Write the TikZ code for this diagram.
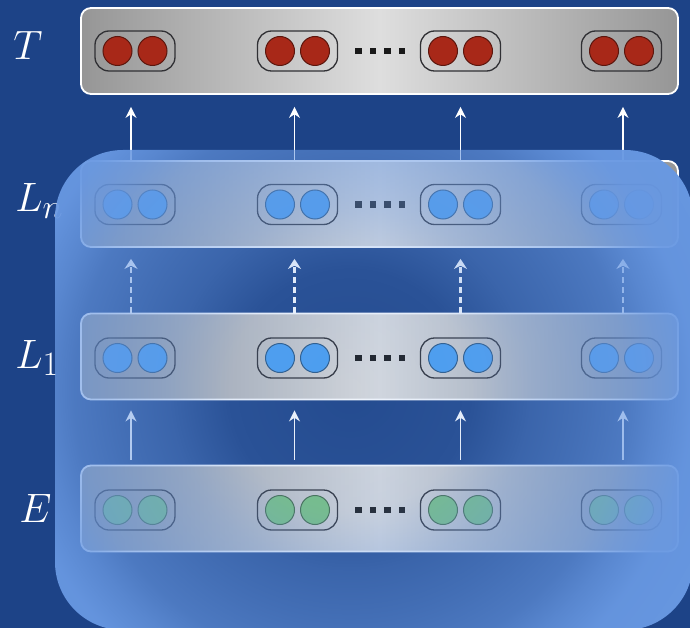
\documentclass[tikz,border=0pt]{standalone}
\usepackage{xcolor}
\usepackage{tikz}
\usetikzlibrary{arrows.meta, fadings}
\definecolor{slidebg}{RGB}{29,67,135}
\definecolor{overlayblue}{RGB}{104,152,226}
\definecolor{boxlight}{RGB}{222,222,222}
\definecolor{boxdark}{RGB}{150,150,150}
\definecolor{cellred}{RGB}{168,40,24}
\definecolor{cellblue}{RGB}{74,160,242}
\definecolor{cellgreen}{RGB}{122,196,126}
\definecolor{pillline}{RGB}{48,48,52}

% fading for the big translucent panel (clear in the middle, solid at the rim)
\pgfdeclareradialshading{overlayshade}{\pgfpointorigin}{color(0bp)=(black!90); color(120bp)=(black!82); color(180bp)=(black!60); color(230bp)=(black!48); color(275bp)=(black!36); color(305bp)=(black!20); color(340bp)=(black!5); color(420bp)=(black!0)}
\pgfdeclarefading{overlayfade}{\pgfuseshading{overlayshade}}

\tikzset{
  layerbox/.style={draw=white, line width=1.8pt, rounded corners=10pt, left color=boxdark, right color=boxdark, middle color=boxlight, minimum width=597pt, minimum height=86pt},
  pairpill/.style={draw=pillline, line width=1.3pt, rounded corners=14pt, minimum width=80pt, minimum height=40pt},
  cell/.style={circle, draw=#1!55!black, fill=#1, line width=1pt, minimum size=29pt, inner sep=0pt},
  dotsq/.style={fill=black!90, minimum size=6.5pt, inner sep=0pt},
  layerlabel/.style={anchor=base west, inner sep=0pt, text=white, font=\Huge, scale=1.65, transform shape},
  uparrow/.style={draw=white, line width=1.8pt, -{Stealth[length=11pt, width=11pt]}}
}

\begin{document}
\begin{tikzpicture}[x=1pt, y=-1pt]
    \fill[slidebg] (0,0) rectangle (690,628);
    \useasboundingbox (0,0) rectangle (690,628);

    \node[layerlabel] (lab-T) at (13,60) {$T$};
    \node[layerlabel] (lab-Ln) at (15,212) {$L_n$};
    \node[layerlabel] (lab-L1) at (15,368) {$L_1$};
    \node[layerlabel] (lab-E) at (19,522) {$E$};

    \node[layerbox] (T) at (379.5,51) {};
    \node[layerbox] (Ln) at (379.5,204) {};
    \node[layerbox] (L1) at (379.5,356.5) {};
    \node[layerbox] (E) at (379.5,508.5) {};

    \foreach \row/\y/\col in {T/51/cellred, Ln/204.5/cellblue, L1/358/cellblue, E/510/cellgreen} {
        \foreach \i/\px in {1/135, 2/297.5, 3/460.5, 4/621.5} {
            \node[pairpill] (\row-\i) at (\px,\y) {};
            \node[cell=\col] at ([xshift=-17.5pt]\row-\i.center) {};
            \node[cell=\col] at ([xshift=17.5pt]\row-\i.center) {};
        }
        \foreach \k in {0,...,3}
            \node[dotsq] at ({358.5+14.5*\k},\y) {};
    }

    \foreach \i/\dx in {1/-4, 2/-3, 3/0, 4/1.5} {
        \draw[uparrow, shorten >=12pt] ([xshift=\dx pt]Ln-\i |- Ln.north) -- ([xshift=\dx pt]T-\i |- T.south);
        \draw[uparrow, line width=2.6pt, dash pattern=on 6pt off 4pt, shorten >=11pt, -{Stealth[length=10pt, width=13pt]}] ([xshift=\dx pt]L1-\i |- L1.north) -- ([xshift=\dx pt]Ln-\i |- Ln.south);
        \draw[uparrow, shorten <=5pt, shorten >=10pt] ([xshift=\dx pt]E-\i |- E.north) -- ([xshift=\dx pt]L1-\i |- L1.south);
    }

    % translucent panel over the lower layers
    \fill[overlayblue, rounded corners=68pt, path fading=overlayfade, fit fading=false, fading transform={shift={(350,390)}}] (55,150) rectangle (693,630);
\end{tikzpicture}
\end{document}
